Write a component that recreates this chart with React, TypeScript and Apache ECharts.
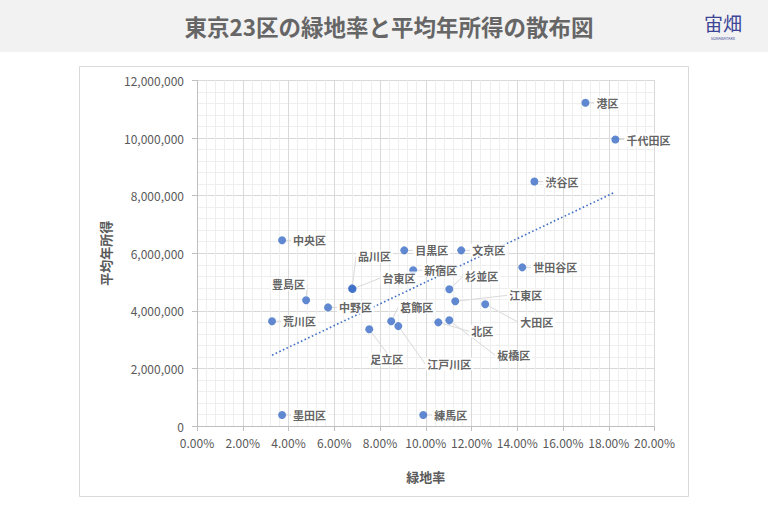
import React, { useEffect, useRef } from "react";
import * as echarts from "echarts";

const wards = [
  "港区", "千代田区", "渋谷区", "中央区", "目黒区", "文京区", "世田谷区", "新宿区",
  "品川区", "台東区", "杉並区", "豊島区", "江東区", "大田区", "中野区", "板橋区",
  "荒川区", "葛飾区", "北区", "江戸川区", "足立区", "墨田区", "練馬区",
];
const greenRate = [
  16.98, 18.29, 14.75, 3.72, 9.06, 11.55, 14.22, 9.45,
  6.78, 6.8, 11.03, 4.77, 11.29, 12.6, 5.73, 11.03,
  3.28, 8.49, 10.55, 8.8, 7.53, 3.72, 9.89,
];
const income = [
  11230000, 9950000, 8490000, 6450000, 6100000, 6100000, 5510000, 5410000,
  4780000, 4760000, 4750000, 4370000, 4330000, 4230000, 4120000, 3670000,
  3640000, 3640000, 3600000, 3470000, 3360000, 380000, 380000,
];
const trendX = [3.28, 18.27];
const trendY = [2460000, 8120000];
const xTicks = { min: 0, max: 20, interval: 2 };
const yTicks = { min: 0, max: 12000000, interval: 2000000 };

// label displacement (styling) for callout labels
const labelShift: Record<string, [number, number]> = {
  "品川区": [-5, -32],
  "台東区": [19, -11],
  "杉並区": [5, -13],
  "豊島区": [-45, -16],
  "江東区": [43, -6],
  "大田区": [24, 18],
  "板橋区": [37, 35],
  "葛飾区": [-2, -14],
  "北区": [22, 9],
  "江戸川区": [18, 38],
  "足立区": [-10, 30],
};

const FONT = "'Noto Sans CJK JP', 'Noto Sans', sans-serif";

export default function App() {
  const ref = useRef<HTMLDivElement>(null);
  useEffect(() => {
    if (!ref.current) return;
    const chart = echarts.init(ref.current, undefined, { renderer: "svg" });
    const points = wards.map((n, i) => ({ name: n, value: [greenRate[i], income[i]] }));
    chart.setOption({
      animation: false,
      backgroundColor: "#ffffff",
      textStyle: { fontFamily: FONT },
      graphic: [
        { type: "rect", shape: { x: 0, y: 0, width: 768, height: 52 }, style: { fill: "#f2f2f2" }, z: -10 },
        {
          type: "rect",
          shape: { x: 79.5, y: 66.5, width: 609, height: 430 },
          style: { fill: "none", stroke: "#d9d9d9", lineWidth: 1 },
          z: -10,
        },
        {
          type: "text",
          x: 389,
          y: 26,
          style: {
            text: "東京23区の緑地率と平均年所得の散布図",
            fontSize: 22.5,
            fontWeight: "bold",
            fill: "#666666",
            textAlign: "center",
            textVerticalAlign: "middle",
            fontFamily: FONT,
          },
        },
        {
          type: "text",
          x: 723,
          y: 22,
          style: {
            text: "宙畑",
            fontSize: 19,
            fill: "#3d4596",
            textAlign: "center",
            textVerticalAlign: "middle",
            fontFamily: FONT,
          },
        },
        {
          type: "text",
          x: 723,
          y: 38,
          style: {
            text: "SORABATAKE",
            fontSize: 4,
            fill: "#3d4596",
            textAlign: "center",
            textVerticalAlign: "middle",
            fontFamily: FONT,
          },
        },
      ],
      grid: { left: 197, right: 113.5, top: 80.5, bottom: 85, containLabel: false },
      xAxis: {
        type: "value",
        min: xTicks.min,
        max: xTicks.max,
        interval: xTicks.interval,
        name: "緑地率",
        nameLocation: "middle",
        nameGap: 44,
        nameTextStyle: { fontSize: 13, color: "#595959", fontWeight: "bold", fontFamily: FONT },
        axisLine: { show: true, lineStyle: { color: "#bfbfbf", width: 1 } },
        axisTick: { show: true, length: 5, lineStyle: { color: "#bfbfbf" } },
        axisLabel: {
          margin: 10,
          fontSize: 12,
          color: "#595959",
          fontFamily: FONT,
          formatter: (v: number) => `${v.toFixed(2)}%`,
        },
        splitLine: { show: true, lineStyle: { color: "#d9d9d9", width: 1 } },
        minorTick: { show: false, splitNumber: 5 },
        minorSplitLine: { show: true, lineStyle: { color: "#eeeeee", width: 1 } },
      },
      yAxis: {
        type: "value",
        min: yTicks.min,
        max: yTicks.max,
        interval: yTicks.interval,
        name: "平均年所得",
        nameLocation: "middle",
        nameRotate: 90,
        nameGap: 85,
        nameTextStyle: { fontSize: 13, color: "#595959", fontWeight: "bold", fontFamily: FONT },
        axisLine: { show: true, lineStyle: { color: "#bfbfbf", width: 1 } },
        axisTick: { show: true, length: 5, lineStyle: { color: "#bfbfbf" } },
        axisLabel: {
          margin: 13,
          fontSize: 12,
          color: "#595959",
          fontFamily: FONT,
          formatter: (v: number) => v.toLocaleString("en-US"),
        },
        splitLine: { show: true, lineStyle: { color: "#d9d9d9", width: 1 } },
        minorTick: { show: false, splitNumber: 5 },
        minorSplitLine: { show: true, lineStyle: { color: "#eeeeee", width: 1 } },
      },
      series: [
        {
          type: "line",
          data: trendX.map((x, i) => [x, trendY[i]]),
          showSymbol: false,
          symbol: "none",
          lineStyle: { color: "#3f6fc4", width: 1.6, type: [1.6, 2.4] },
          z: 3,
          silent: true,
        },
        {
          type: "scatter",
          data: points,
          symbolSize: 8,
          itemStyle: { color: "#3a6bc6" },
          z: 4,
          label: {
            show: true,
            position: "right",
            distance: 5,
            formatter: "{b}",
            fontSize: 11,
            fontWeight: "bold",
            color: "#3a3a3a",
            fontFamily: FONT,
            backgroundColor: "#ffffff",
            padding: [1, 2],
          },
          labelLine: { show: true, lineStyle: { color: "#d9d9d9", width: 1 } },
          labelLayout: (params: any) => {
            const s = labelShift[wards[params.dataIndex]];
            return s ? { dx: s[0], dy: s[1] } : {};
          },
        },
      ],
    });
    return () => chart.dispose();
  }, []);
  return (
    <div
      ref={ref}
      style={{ position: "fixed", left: 0, top: 0, width: 768, height: 511, background: "#fff" }}
    />
  );
}
